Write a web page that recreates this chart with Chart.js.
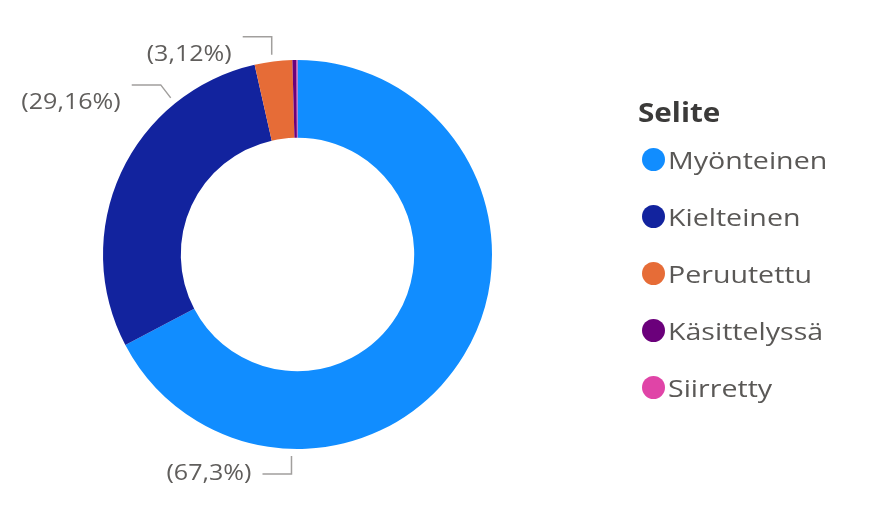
<!DOCTYPE html>
<html>
<head>
<meta charset="utf-8">
<script src="https://cdn.jsdelivr.net/npm/chart.js@4.4.1/dist/chart.umd.min.js"></script>
<style>
  html, body { margin: 0; padding: 0; background: #fff; }
  #wrap { position: relative; width: 886px; height: 505px; overflow: hidden; }
  #chart { position: absolute; left: 0; top: 0; }
  #legend { position: absolute; left: 638px; top: 95px; font-family: "Open Sans", "Noto Sans", sans-serif; }
  #legend .title { font-weight: bold; font-size: 26px; color: #3b3a39; height: 34px; line-height: 34px; margin-bottom: 2px;
                   display: inline-block; transform: scaleX(1.14); transform-origin: left center; }
  #legend .item { height: 57px; display: flex; align-items: center; font-size: 24px; color: #5a5856; }
  #legend .dot { width: 23px; height: 23px; border-radius: 50%; margin-left: 4px; margin-right: 3px; flex: none; }
  #legend .name { display: inline-block; transform: scaleX(1.19); transform-origin: left center; white-space: nowrap; }
</style>
</head>
<body>
<div id="wrap">
  <canvas id="chart" width="886" height="505"></canvas>
  <div id="legend"></div>
</div>
<script>
/* DATA */
const categories = ["Myönteinen", "Kielteinen", "Peruutettu", "Käsittelyssä", "Siirretty"];
const shares = [67.3, 29.16, 3.12, 0.34, 0.08];
const shareLabels = ["(67,3%)", "(29,16%)", "(3,12%)", null, null];
const colors = ["#118DFF", "#12239E", "#E66C37", "#6B007B", "#E044A7"];
const legendTitle = "Selite";

/* label leader layout (Power BI style elbows) */
const leaderStyle = [
  { frac: 0.75, elbow: [0, 18], run: 29, textDy: 0 },
  { frac: 0.75, elbow: [-10, -13], run: 29, textDy: 18 },
  { frac: 0.48, elbow: [0, -18], run: 29, textDy: 18 },
  null, null
];

/* LEGEND */
const legendEl = document.getElementById("legend");
const t = document.createElement("div");
t.className = "title";
t.textContent = legendTitle;
legendEl.appendChild(t);
categories.forEach((name, i) => {
  const row = document.createElement("div");
  row.className = "item";
  row.innerHTML = `<span class="dot" style="background:${colors[i]}"></span><span class="name">${name}</span>`;
  legendEl.appendChild(row);
});

/* LEADER LABEL PLUGIN */
const leaderLabels = {
  id: "leaderLabels",
  afterDatasetsDraw(chart){
    const ctx = chart.ctx;
    const meta = chart.getDatasetMeta(0);
    ctx.save();
    meta.data.forEach((arc, i) => {
      const st = leaderStyle[i];
      if(!st || !shareLabels[i]) return;
      const p = arc.getProps(["x", "y", "startAngle", "endAngle", "outerRadius"], true);
      const a = p.startAngle + (p.endAngle - p.startAngle) * st.frac;
      const r = p.outerRadius + 7;
      const x0 = p.x + Math.cos(a) * r;
      const y0 = p.y + Math.sin(a) * r;
      const x1 = x0 + st.elbow[0];
      const y1 = y0 + st.elbow[1];
      const x2 = x1 - st.run;
      ctx.strokeStyle = "#a19f9d";
      ctx.lineWidth = 1.5;
      ctx.beginPath();
      ctx.moveTo(x0, y0);
      ctx.lineTo(x1, y1);
      ctx.lineTo(x2, y1);
      ctx.stroke();

      ctx.save();
      ctx.translate(x2 - 11, y1 + st.textDy);
      ctx.scale(1.14, 1);
      ctx.fillStyle = "#605e5c";
      ctx.font = '22px "Open Sans", "Noto Sans", sans-serif';
      ctx.textAlign = "right";
      ctx.textBaseline = "middle";
      ctx.fillText(shareLabels[i], 0, 0);
      ctx.restore();
    });
    ctx.restore();
  }
};

new Chart(document.getElementById("chart"), {
  type: "doughnut",
  data: {
    labels: categories,
    datasets: [{
      data: shares,
      backgroundColor: colors,
      borderWidth: 0,
      hoverOffset: 0
    }]
  },
  options: {
    responsive: false,
    animation: false,
    cutout: "60%",
    layout: { padding: { left: 103, right: 394, top: 60, bottom: 56 } },
    plugins: {
      legend: { display: false },
      tooltip: { enabled: false }
    }
  },
  plugins: [leaderLabels]
});
</script>
</body>
</html>
